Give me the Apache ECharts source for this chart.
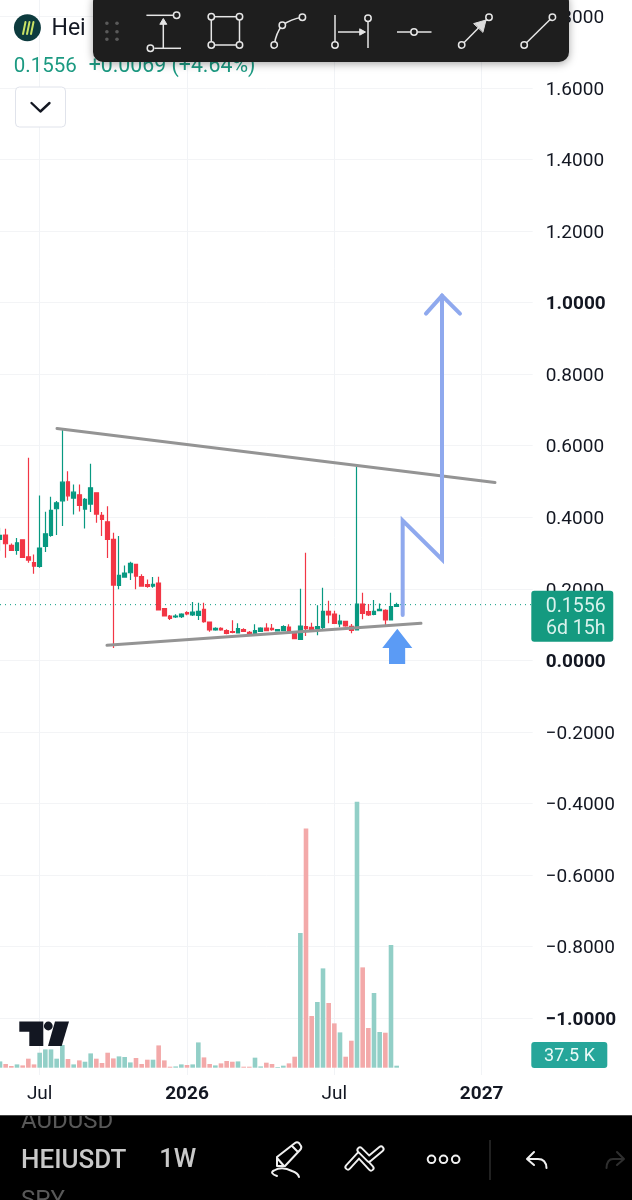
<!DOCTYPE html>
<html><head><meta charset="utf-8">
<style>html,body{margin:0;padding:0;background:#fff}#c{width:632px;height:1200px}</style>
<script src="https://cdn.jsdelivr.net/npm/echarts@6/dist/echarts.min.js"></script>
</head><body><div id="c"></div>
<script>
// [open, close, low, high] per week
const candles = [
[.3380,.3492,.3054,.3706],[.3501,.3259,.2868,.3678],[.3213,.3073,.3064,.3269],[.3073,.3287,.2952,.3418],[.3371,.2878,.2878,.3371],
[.2896,.2803,.2729,.5661],[.2729,.2636,.2421,.2961],[.2626,.3138,.2589,.4609],[.3185,.3539,.3027,.4153],[.3492,.4190,.3455,.4572],
[.4237,.4404,.3501,.4451],[.4460,.4982,.3753,.6471],[.4991,.4600,.4460,.5289],[.4535,.4702,.4079,.4916],[.4628,.4330,.4162,.4916],
[.4228,.4498,.3688,.4535],[.4367,.4823,.4144,.5494],[.4684,.4088,.3846,.4684],[.4051,.3939,.3474,.4144],[.3874,.3380,.2859,.4311],
[.3380,.2105,.0345,.3567],[.2096,.2375,.1984,.3474],[.2328,.2440,.2328,.2654],[.2449,.2710,.2245,.2757],[.2682,.2356,.1984,.2701],
[.2338,.2077,.2077,.2403],[.2114,.2068,.2030,.2263],[.2077,.2124,.2030,.2328],[.2161,.1407,.1407,.2338],[.1444,.1239,.1239,.1444],
[.1239,.1174,.1127,.1267],[.1211,.1239,.1183,.1286],[.1220,.1295,.1183,.1314],[.1332,.1295,.1258,.1369],[.1267,.1351,.1239,.1630],
[.1258,.1369,.1127,.1612],[.1425,.1080,.1052,.1611],[.1071,.0848,.0801,.1071],[.0848,.0894,.0829,.0922],[.0894,.0848,.0829,.0922],
[.0829,.0755,.0727,.0866],[.0801,.0783,.0755,.1118],[.0764,.0885,.0755,.1034],[.0857,.0810,.0792,.0894],[.0783,.0708,.0699,.0820],
[.0727,.0829,.0708,.1006],[.0810,.0904,.0792,.0922],[.0904,.0829,.0820,.1034],[.0894,.0857,.0829,.1015],[.0820,.0857,.0810,.0866],
[.0829,.0941,.0810,.0978],[.0931,.0792,.0773,.1006],[.0773,.0606,.0606,.0792],[.0587,.0959,.0568,.1998],[.0941,.0885,.0680,.3008],
[.0922,.0829,.0820,.1053],[.0885,.0941,.0699,.1537],[.0922,.1369,.0829,.2030],[.1369,.1267,.1034,.1667],[.1295,.1034,.1034,.1388],
[.1015,.1099,.0922,.1276],[.1090,.0959,.0941,.1090],[.0950,.0838,.0755,.1015],[.0848,.1574,.0848,.5419],[.1574,.1313,.1146,.1890],
[.1360,.1267,.1239,.1574],[.1285,.1369,.1257,.1686],[.1388,.1425,.1369,.1592],[.1397,.1127,.0978,.1425],[.1127,.1499,.1118,.1890],
[.1509,.1556,.1490,.1611]];
// weekly volume, thousands
const volumes = [118,69,32,62,43,169,62,281,343,343,169,426,163,62,137,112,268,169,88,281,174,212,201,99,182,69,150,150,418,137,
19,24,62,51,62,474,193,69,43,81,126,112,118,19,19,188,24,94,69,13,38,81,206,2526,4487,969,1232,1862,1213,831,662,206,506,4988,1881,744,1401,669,656,2301,37.5];
const lastPrice = 0.1556;
const xTickLabels = {'2025-07-07':'Jul','2026-01-05':'2026','2026-07-06':'Jul','2027-01-04':'2027'};
const weekCount = 95;
const categories = [];
for (let i = 0; i < weekCount; i++) categories.push(new Date(Date.UTC(2025,4,19+7*i)).toISOString().slice(0,10));
// drawings, [week index, price]
const upperTrend = [[10.06,.648],[87.35,.4972]];
const lowerTrend = [[18.88,.0419],[74.29,.1034]];
const projection = [[71.06,.1265],[71.06,.391],[78,.2821],[78,1.0196]];
const projectionHead = [[75.17,.9693],[78,1.0196],[81.17,.9693]];
const arrowPoly = [[70.11,.0885],[72.76,.0344],[71.5,.0344],[71.5,-.0101],[68.65,-.0101],[68.65,.0344],[67.46,.0344]];

const UP='#089981', DOWN='#f23645', VUP='#92cfc7', VDOWN='#f3a9a9', FONT='Roboto, sans-serif';
const chart = echarts.init(document.getElementById('c'),null,{renderer:'canvas'});
const Z=100;
let pathId=0;
const L=(x1,y1,x2,y2,s='#e6e6e6',w=1.5)=>({type:'line',z:Z,shape:{x1,y1,x2,y2},style:{stroke:s,lineWidth:w}});
const O=(cx,cy,r=3.2,s='#e6e6e6',w=1.5,f='#1e1e1e')=>({type:'circle',z:Z,shape:{cx,cy,r},style:{stroke:s,lineWidth:w,fill:f}});
const T=(x,y,text,font,fill,align='left',z=Z)=>({type:'text',z,x,y:y+2,style:{text,font,fill,textAlign:align,textVerticalAlign:'middle'}});
const P=(pathData,s,w,f='none',z=Z)=>{const name='uiPath'+(pathId++);
  echarts.graphic.registerShape(name,echarts.graphic.extendPath(pathData,{}));
  return {type:name,z,style:{stroke:s,lineWidth:w,fill:f,lineCap:'round',lineJoin:'round'}};};
const R=(x,y,width,height,fill,r=0,extra={},z=Z)=>({type:'rect',z,shape:{x,y,width,height,r},style:Object.assign({fill},extra)});

const ui=[
 // header
 {type:'circle',z:Z,shape:{cx:27.4,cy:27.7,r:13.5},style:{fill:'#0d3b3e'}},
 P('M23 34 L25.5 22 M27 34 L29.5 22 M31 34 L33.5 22','#c9e265',2),
 T(51.5,27,'Hei','400 23px '+FONT,'#131722'),
 T(13.7,65,'0.1556','400 20.5px '+FONT,'#1c9a82'),
 T(88.7,65,'+0.0069 (+4.64%)','400 21.3px '+FONT,'#1c9a82'),
 R(15.5,87,50,40,'#fff',4,{stroke:'#e0e3eb',lineWidth:1}),
 P('M31.5 103 L40.4 111.5 L49.5 103','#131722',2.4),
 // toolbar
 R(93,-8,476,70,'#1e1e1e',10,{shadowBlur:8,shadowColor:'rgba(0,0,0,0.35)',shadowOffsetY:2}),
 ...[[106.9,23.3],[117,23.3],[106.9,31.7],[117,31.7],[106.9,39.3],[117,39.3]].map(p=>({type:'circle',z:Z,shape:{cx:p[0],cy:p[1],r:1.8},style:{fill:'#5a5a5a'}})),
 L(146.4,15.3,173.4,15.3),O(176.6,15.3),L(154.4,48.3,181,48.3),O(150.4,48.3),L(163.3,48.3,163.3,22),P('M160 24 L163.3 18.5 L166.6 24 Z','#e6e6e6',1,'#e6e6e6'),
 L(211.3,16.7,239.5,16.7),L(211.3,45,239.5,45),L(211.3,16.7,211.3,45),L(239.5,16.7,239.5,45),O(211.3,16.7),O(239.5,16.7),O(211.3,45),O(239.5,45),
 P('M274.2 45 Q276 33 282.3 25.3 Q291 19 302.4 17.3','#e6e6e6',1.5),O(274.2,45),O(282.3,25.3),O(302.4,17.3),
 L(335,15,335,42),O(335,45),L(368,22,368,48),O(368,18.3),L(338,32,362,32),P('M360 29 L365.5 32 L360 35 Z','#e6e6e6',1,'#e6e6e6'),
 L(397,32,431.5,32),O(414,32),
 L(461.7,45,489,17.3),P('M474 23.5 L486 20 L483 32 Z','#dcdcdc',1,'#dcdcdc'),O(461.7,45),O(489,17.3),
 L(524.2,45,552.4,17.3),O(524.2,45),O(552.4,17.3),
 // price tag
 R(531.3,590.7,82,51,'#149a80',3),
 T(575.7,605,'0.1556','400 19.5px '+FONT,'#d9f2ec','center'),
 T(575.7,627,'6d 15h','400 19.5px '+FONT,'#d9f2ec','center'),
 // volume tag
 R(531.3,1042,76,26,'#26a69a',3),
 T(569.5,1054,'37.5 K','400 18px '+FONT,'#eafaf7','center'),
 // logo
 P('M19.3 1021.5 L43.3 1021.5 L43.3 1046 L29.3 1046 L29.3 1031.7 L19.3 1031.7 Z','none',0,'#131722'),
 {type:'circle',z:Z,shape:{cx:48.3,cy:1026,r:4.4},style:{fill:'#131722'}},
 P('M55 1021.5 L69 1021.5 L61.7 1046 L48 1046 Z','none',0,'#131722'),
 // bottom bar
 R(0,1115.3,632,85,'#000'),
 T(21,1120,'AUDUSD','400 24px '+FONT,'#585858'),
 T(21,1199,'SPY','400 24px '+FONT,'#585858'),
 R(0,1104,632,11,'#fff',0,{},Z+1),
 L(0,1115.3,632,1115.3,'#444',1),
 T(21,1159,'HEIUSDT','500 26px '+FONT,'#c9c9c9'),
 T(159.3,1159,'1W','500 25.5px '+FONT,'#c9c9c9'),
 P('M277 1166 L277 1157 L295 1143 Q297 1141.5 299 1143 L301 1146 Q302 1148 300 1150 L285 1166 Z M292 1146 L298 1152 M277 1158 L284 1166','#f0f0f0',2),
 P('M277 1176 Q269 1173 274 1170.5 Q282 1166 292 1171 Q298 1173 299 1177','#f0f0f0',2),
 P('M348 1167 L359 1155 L371 1168','#f0f0f0',7),P('M348 1167 L359 1155 L371 1168','#000',3.2),
 P('M360 1150 L369 1159 L381 1149','#f0f0f0',7),P('M360 1150 L369 1159 L381 1149','#000',3.2),
 O(431.5,1159.3,3.8,'#f0f0f0',2,'#000'),O(443.5,1159.3,3.8,'#f0f0f0',2,'#000'),O(455.7,1159.3,3.8,'#f0f0f0',2,'#000'),
 L(490,1140,490,1180,'#2c2c2c',1.5),
 P('M534 1152 L527 1159 L534 1165 M527 1159 L538 1159 Q546 1159 546.5 1168','#f0f0f0',2),
 P('M617 1152 L624 1159 L617 1165 M624 1159 L613 1159 Q607 1159 606.5 1168','#2f2f2f',2)
];

const lineSeries=(data,color,width,z)=>({type:'line',xAxisIndex:2,yAxisIndex:0,data,symbol:'none',silent:true,z,clip:false,animation:false,
  lineStyle:{color,width,cap:'round',join:'miter'}});

chart.setOption({
 animation:false,
 backgroundColor:'#fff',
 textStyle:{fontFamily:FONT},
 grid:[
  {left:0,top:16.5,width:532.67,height:1001.5},
  {left:0,top:0,width:532.67,height:1075}
 ],
 xAxis:[
  {type:'category',gridIndex:0,data:categories,boundaryGap:false,show:false},
  {type:'category',gridIndex:1,data:categories,boundaryGap:false,
   axisLine:{show:false},axisTick:{show:false},
   splitLine:{show:true,interval:(i,v)=>!!xTickLabels[v],lineStyle:{color:'#f1f3f6',width:1}},
   axisLabel:{interval:(i,v)=>!!xTickLabels[v],margin:10,fontSize:19,color:'#131722',fontFamily:FONT,
     formatter:v=>{const t=xTickLabels[v]||'';return t==='Jul'?t:'{b|'+t+'}';},
     rich:{b:{fontWeight:700,fontSize:19,color:'#131722',fontFamily:FONT}}}},
  {type:'value',gridIndex:0,min:0,max:94,show:false}
 ],
 yAxis:[
  {type:'value',gridIndex:0,position:'right',min:-1,max:1.8,interval:0.2,
   axisLine:{show:false},axisTick:{show:false},
   splitLine:{show:true,lineStyle:{color:'#f3f4f6',width:1}},
   axisLabel:{margin:13,fontSize:19,color:'#131722',fontFamily:FONT,align:'left',padding:[4,0,0,0],
    formatter:v=>{const a=Math.abs(v),s=(v<-1e-9?'\u2212':'')+a.toFixed(4);
      const bold=a<1e-9||Math.abs(a-1)<1e-9;return bold?'{b|'+s+'}':s;},
    rich:{b:{fontWeight:700,fontSize:19,color:'#131722',fontFamily:FONT}}}},
  {type:'value',gridIndex:1,min:-137,max:20019,show:false,splitLine:{show:false}}
 ],
 series:[
  {type:'bar',name:'Volume',xAxisIndex:1,yAxisIndex:1,barWidth:4.6,z:1,silent:true,
   data:volumes.map((v,i)=>({value:v,itemStyle:{color:candles[i][1]>=candles[i][0]?VUP:VDOWN}}))},
  Object.assign(lineSeries([[0,lastPrice],[94,lastPrice]],UP,1,2),{lineStyle:{color:UP,width:1,type:[1,4]}}),
  {type:'candlestick',name:'HEIUSDT',xAxisIndex:0,yAxisIndex:0,barWidth:4.4,z:3,silent:true,data:candles,
   itemStyle:{color:UP,color0:DOWN,borderColor:UP,borderColor0:DOWN,borderWidth:1.2}},
  lineSeries(upperTrend,'#949494',3,4),
  lineSeries(lowerTrend,'#949494',3,4),
  lineSeries(projection,'#8fa9ee',4,5),
  lineSeries(projectionHead,'#8fa9ee',4,5),
  {type:'custom',xAxisIndex:2,yAxisIndex:0,z:6,silent:true,clip:false,data:[[0,0]],
   renderItem:(p,api)=>({type:'polygon',shape:{points:arrowPoly.map(q=>api.coord(q))},style:{fill:'#5b9bf5'}})}
 ],
 graphic:{elements:ui}
});
</script></body></html>
